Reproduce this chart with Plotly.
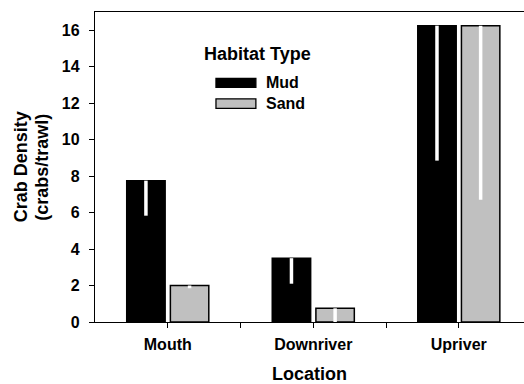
import plotly.graph_objects as go

# Mean crab density per trawl by location and habitat, with lower error limits
locations = ["Mouth", "Downriver", "Upriver"]
mud_mean = [7.75, 3.5, 16.25]
mud_lower = [5.83, 2.1, 8.85]
sand_mean = [2.0, 0.75, 16.25]
sand_lower = [1.85, 0.0, 6.7]
y_ticks = [0, 2, 4, 6, 8, 10, 12, 14, 16]

MUD_COLOR = "#000000"
SAND_COLOR = "#c0c0c0"
FONT = "Liberation Sans, Arial, sans-serif"

xpos = list(range(len(locations)))


def lower_err(mean, lower):
    return [m - lo for m, lo in zip(mean, lower)]


def bar_trace(name, mean, lower, color):
    return go.Bar(
        name=name,
        x=xpos,
        y=mean,
        marker=dict(color=color, line=dict(color="#000000", width=1.5)),
        error_y=dict(
            type="data",
            symmetric=False,
            array=[0] * len(mean),
            arrayminus=lower_err(mean, lower),
            color="#ffffff",
            thickness=3.5,
            width=0,
        ),
        showlegend=False,
    )


fig = go.Figure()
fig.add_trace(bar_trace("Mud", mud_mean, mud_lower, MUD_COLOR))
fig.add_trace(bar_trace("Sand", sand_mean, sand_lower, SAND_COLOR))

# x ticks: labelled at each location, unlabelled between locations
x_tickvals = []
x_ticktext = []
for i, loc in enumerate(locations):
    x_tickvals.append(i)
    x_ticktext.append(loc)
    if i < len(locations) - 1:
        x_tickvals.append(i + 0.5)
        x_ticktext.append("")

fig.update_layout(
    width=524,
    height=384,
    margin=dict(l=95, r=0, t=12, b=62),
    paper_bgcolor="white",
    plot_bgcolor="white",
    barmode="group",
    bargap=0.4,
    bargroupgap=0.12,
    font=dict(family=FONT, color="#000000"),
    xaxis=dict(
        range=[-0.5, 2.448],
        tickvals=x_tickvals,
        ticktext=x_ticktext,
        ticks="outside",
        ticklen=5,
        tickwidth=1.3,
        tickcolor="#000000",
        showline=True,
        linecolor="#000000",
        linewidth=1.3,
        mirror=True,
        showgrid=False,
        zeroline=False,
        tickfont=dict(size=16, weight="bold", family=FONT),
        ticklabelstandoff=3,
        title=dict(text="Location", font=dict(size=18, weight="bold", family=FONT), standoff=18),
    ),
    yaxis=dict(
        range=[0, 17],
        tickvals=y_ticks,
        ticks="outside",
        ticklen=5,
        tickwidth=1.3,
        tickcolor="#000000",
        showline=True,
        linecolor="#000000",
        linewidth=1.3,
        showgrid=False,
        zeroline=False,
        tickfont=dict(size=16, weight="bold", family=FONT),
        ticklabelstandoff=6,
    ),
)

# Two-line y-axis title
for text, xp in [("Crab Density", -0.172), ("(crabs/trawl)", -0.124)]:
    fig.add_annotation(
        text=text, textangle=-90, xref="paper", yref="paper",
        x=xp, y=0.5, xanchor="center", yanchor="middle", showarrow=False,
        font=dict(size=18, weight="bold", family=FONT),
    )

# Legend block drawn with wide swatches
fig.add_annotation(
    text="Habitat Type", xref="paper", yref="paper", x=0.379, y=0.865,
    xanchor="center", yanchor="middle", showarrow=False,
    font=dict(size=18, weight="bold", family=FONT),
)
legend_rows = [("Mud", MUD_COLOR, 0.786, 0.757), ("Sand", SAND_COLOR, 0.720, 0.689)]
for label, color, ytop, ybot in legend_rows:
    fig.add_shape(
        type="rect", xref="paper", yref="paper", x0=0.282, x1=0.375, y0=ybot, y1=ytop,
        fillcolor=color, line=dict(color="#000000", width=1.3),
    )
    fig.add_annotation(
        text=label, xref="paper", yref="paper", x=0.394, y=(ytop + ybot) / 2,
        xanchor="left", yanchor="middle", showarrow=False,
        font=dict(size=16, weight="bold", family=FONT),
    )

fig.write_html("out.html")
